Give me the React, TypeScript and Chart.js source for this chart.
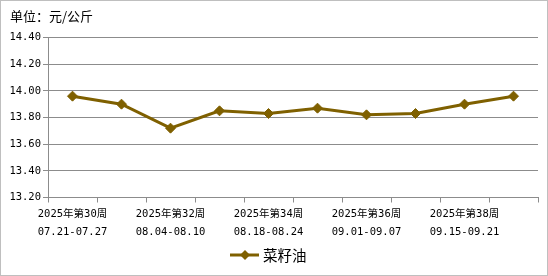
import React, { useEffect, useRef } from "react";
import { Chart, registerables } from "chart.js";

Chart.register(...registerables);

const weeks = [
  "2025年第30周", "2025年第31周", "2025年第32周", "2025年第33周", "2025年第34周",
  "2025年第35周", "2025年第36周", "2025年第37周", "2025年第38周", "2025年第39周",
];
const ranges = [
  "07.21-07.27", "07.28-08.03", "08.04-08.10", "08.11-08.17", "08.18-08.24",
  "08.25-08.31", "09.01-09.07", "09.08-09.14", "09.15-09.21", "09.22-09.28",
];
const rapeseedOil = [13.96, 13.9, 13.72, 13.85, 13.83, 13.87, 13.82, 13.83, 13.9, 13.96];
const seriesName = "菜籽油";
const unitTitle = "单位：元/公斤";

const COLOR = "#7F6000";
const GRID = "#8c8c8c";
const MONO = '"DejaVu Sans Mono", "Noto Sans CJK SC", monospace';
const CJK = '"Noto Sans CJK SC", sans-serif';

export default function App() {
  const ref = useRef<HTMLCanvasElement | null>(null);

  useEffect(() => {
    document.body.style.margin = "0";
    const canvas = ref.current!;
    const decor = {
      id: "decor",
      afterDraw(chart: any) {
        const ctx = chart.ctx as CanvasRenderingContext2D;
        ctx.save();
        ctx.strokeStyle = "#bfbfbf";
        ctx.lineWidth = 1;
        ctx.strokeRect(0.5, 0.5, chart.width - 1, chart.height - 1);
        ctx.fillStyle = "#000";
        ctx.font = `13px ${CJK}`;
        ctx.textBaseline = "middle";
        ctx.textAlign = "left";
        ctx.fillText(unitTitle, 10, 16);
        const ly = 255;
        ctx.strokeStyle = COLOR;
        ctx.lineWidth = 3;
        ctx.beginPath();
        ctx.moveTo(230, ly);
        ctx.lineTo(259, ly);
        ctx.stroke();
        ctx.fillStyle = COLOR;
        ctx.beginPath();
        ctx.moveTo(245, ly - 5);
        ctx.lineTo(250, ly);
        ctx.lineTo(245, ly + 5);
        ctx.lineTo(240, ly);
        ctx.closePath();
        ctx.fill();
        ctx.fillStyle = "#000";
        ctx.font = `14.5px ${CJK}`;
        ctx.fillText(seriesName, 263, ly);
        ctx.restore();
      },
    };
    const chart = new Chart(canvas, {
      type: "line",
      data: {
        labels: weeks.map((w, i) => [w, ranges[i]]),
        datasets: [
          {
            label: seriesName,
            data: rapeseedOil,
            borderColor: COLOR,
            backgroundColor: COLOR,
            borderWidth: 3,
            pointStyle: "rectRot",
            pointRadius: 5,
            pointBackgroundColor: COLOR,
            pointBorderColor: COLOR,
            pointBorderWidth: 1,
            tension: 0,
          },
        ],
      },
      options: {
        animation: false,
        responsive: false,
        maintainAspectRatio: false,
        layout: { padding: { top: 37.5, left: 0, right: 10, bottom: 0 } },
        plugins: { legend: { display: false }, tooltip: { enabled: false }, title: { display: false } },
        scales: {
          x: {
            offset: true,
            grid: {
              offset: true,
              drawOnChartArea: false,
              drawTicks: true,
              tickLength: 5,
              color: GRID,
            },
            border: { color: GRID, width: 1 },
            ticks: {
              autoSkip: false,
              maxRotation: 0,
              minRotation: 0,
              padding: 3,
              color: "#000",
              font: { family: MONO, size: 10.5, lineHeight: 1.7 },
              callback: function (this: any, _v: any, i: number) {
                return i % 2 === 0 ? [weeks[i], ranges[i]] : "";
              },
            },
            afterFit: (s: any) => {
              s.height = 78.5;
            },
          },
          y: {
            min: 13.2,
            max: 14.4,
            grid: { color: GRID, tickLength: 5, drawTicks: true },
            border: { color: GRID, width: 1 },
            ticks: {
              stepSize: 0.2,
              padding: 2,
              color: "#000",
              font: { family: MONO, size: 10.5 },
              callback: (v: any) => Number(v).toFixed(2),
            },
            afterFit: (s: any) => {
              s.width = 48;
            },
          },
        },
      },
      plugins: [decor],
    });
    return () => chart.destroy();
  }, []);

  return <canvas ref={ref} width={548} height={276} style={{ display: "block" }} />;
}
